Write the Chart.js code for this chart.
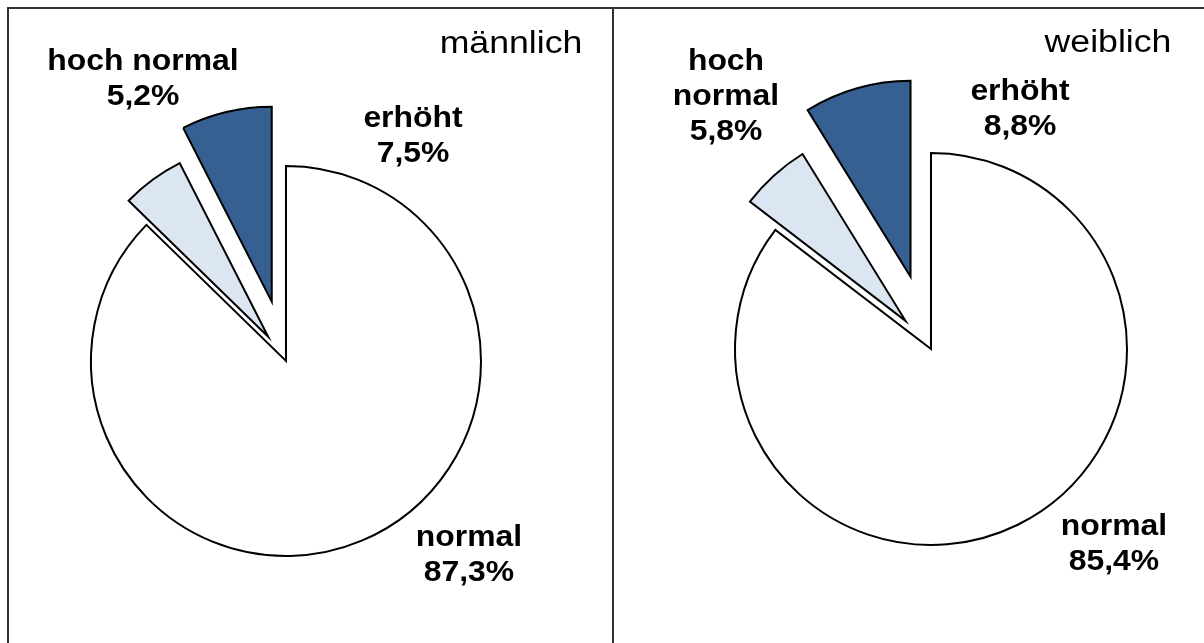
<!DOCTYPE html>
<html>
<head>
<meta charset="utf-8">
<script src="https://cdn.jsdelivr.net/npm/chart.js@4/dist/chart.umd.min.js"></script>
<style>
  html, body { margin: 0; padding: 0; background: #fff; }
  #page { position: relative; width: 1204px; height: 643px; overflow: hidden; background: #fff; }
  .panel { position: absolute; top: 0; height: 643px; }
  #frameTop { position: absolute; left: 8px; top: 7px; width: 1196px; height: 2px; background: #333; }
  #frameLeft { position: absolute; left: 7px; top: 7px; width: 2px; height: 636px; background: #333; }
  #frameMid { position: absolute; left: 612px; top: 7px; width: 2px; height: 636px; background: #333; }
</style>
</head>
<body>
<div id="page">
  <div class="panel" id="p1" style="left:0;width:612px;"><canvas id="c1"></canvas></div>
  <div class="panel" id="p2" style="left:612px;width:592px;"><canvas id="c2"></canvas></div>
  <div id="frameTop"></div>
  <div id="frameLeft"></div>
  <div id="frameMid"></div>
</div>
<script>
// ---- data ----
const categories = ['normal', 'hoch normal', 'erhöht'];
const maleValues = [87.3, 5.2, 7.5];
const femaleValues = [85.4, 5.8, 8.8];
const panelTitles = ['männlich', 'weiblich'];

// ---- styles ----
const sliceColors = ['#ffffff', '#dce6f2', '#376092'];

function fmt(v) { return v.toFixed(1).replace('.', ',') + '%'; }

function drawText(ctx, text, x, y, font, sx) {
  ctx.save();
  ctx.font = font;
  ctx.fillStyle = '#000';
  ctx.textAlign = 'center';
  ctx.textBaseline = 'alphabetic';
  ctx.translate(x, y);
  ctx.scale(sx, 1);
  ctx.fillText(text, 0, 0);
  ctx.restore();
}

// Explode slices by moving each arc's centre along its mid angle (no radius change)
const explodePlugin = {
  id: 'explode',
  afterDatasetUpdate(chart, args, opts) {
    const meta = args.meta;
    meta.data.forEach((arc, i) => {
      const d = (opts.distances || [])[i] || 0;
      if (!d) return;
      const mid = (arc.startAngle + arc.endAngle) / 2;
      arc.x += Math.cos(mid) * d;
      arc.y += Math.sin(mid) * d;
    });
  }
};

const labelPlugin = {
  id: 'panelLabels',
  afterDraw(chart, args, opts) {
    const ctx = chart.ctx;
    const values = chart.data.datasets[0].data;
    const labels = chart.data.labels;
    drawText(ctx, opts.title, opts.titlePos[0], opts.titlePos[1],
      '31px "Liberation Sans", Arial, sans-serif', 1.15);
    opts.labelPos.forEach((p, i) => {
      const lines = p.split ? labels[i].split(' ') : [labels[i]];
      lines.push(fmt(values[i]));
      lines.forEach((ln, k) => {
        drawText(ctx, ln, p.x, p.y + k * 35,
          'bold 29px "Liberation Sans", Arial, sans-serif', 1.1);
      });
    });
  }
};

function makePie(id, values, radius, explode, padding, title, titlePos, labelPos) {
  return new Chart(document.getElementById(id), {
    type: 'pie',
    data: {
      labels: categories,
      datasets: [{
        data: values,
        backgroundColor: sliceColors,
        borderColor: '#000',
        borderWidth: 2,
        borderJoinStyle: 'miter'
      }]
    },
    options: {
      responsive: true,
      maintainAspectRatio: false,
      animation: false,
      events: [],
      radius: radius,
      layout: { padding: padding },
      plugins: {
        legend: { display: false },
        tooltip: { enabled: false },
        explode: { distances: explode },
        panelLabels: { title: title, titlePos: titlePos, labelPos: labelPos }
      }
    },
    plugins: [explodePlugin, labelPlugin]
  });
}

makePie('c1', maleValues, 195, [0, 30, 61],
  { left: 0, right: 40, top: 79, bottom: 0 },
  panelTitles[0], [511, 53],
  [
    { x: 469, y: 546 },
    { x: 143, y: 70 },
    { x: 413, y: 127 }
  ]);

makePie('c2', femaleValues, 196, [0, 38, 75],
  { left: 46, right: 0, top: 55, bottom: 0 },
  panelTitles[1], [496, 52],
  [
    { x: 502, y: 535 },
    { x: 114, y: 70, split: true },
    { x: 408, y: 100 }
  ]);
</script>
</body>
</html>
